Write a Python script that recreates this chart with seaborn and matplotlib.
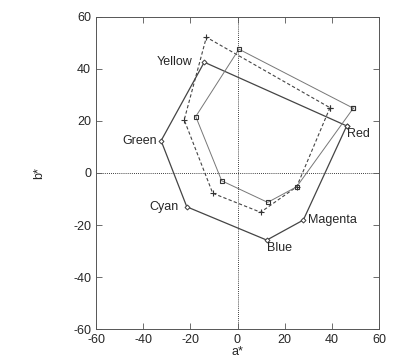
import numpy as np
import pandas as pd
from matplotlib import pyplot as plt
import seaborn as sns

# a*/b* coordinates of the six primaries/secondaries, three devices
colours = ["Red", "Magenta", "Blue", "Cyan", "Green", "Yellow"]
a_solid = [46.3, 27.9, 12.4, -21.5, -32.4, -14.1]
b_solid = [18.1, -18.1, -25.8, -13.0, 12.4, 42.6]
a_dash = [39.2, 25.1, 9.8, -10.5, -22.6, -13.2]
b_dash = [25.1, -5.3, -15.1, -7.8, 20.4, 52.2]
a_sq = [49.1, 25.1, 12.8, -6.7, -17.7, 0.6]
b_sq = [24.9, -5.3, -11.3, -3.0, 21.7, 47.6]

ticks = [-60, -40, -20, 0, 20, 40, 60]

sns.set_style("ticks")
plt.rcParams['font.family'] = ['Liberation Sans', 'DejaVu Sans']
plt.rcParams['axes.unicode_minus'] = False

fig = plt.figure(figsize=(4, 3.6), dpi=100)
ax = fig.add_axes([0.24, 0.086, 0.7075, 0.867])


def closed(a, b):
    # repeat first point so the polygon closes
    return pd.DataFrame({"a": a + a[:1], "b": b + b[:1]})


sns.lineplot(data=closed(a_solid, b_solid), x="a", y="b", sort=False, estimator=None,
             color="#444444", lw=0.9, marker="D", markersize=2.5,
             markerfacecolor="white", markeredgecolor="#444444", ax=ax)
sns.lineplot(data=closed(a_dash, b_dash), x="a", y="b", sort=False, estimator=None,
             color="#444444", lw=0.8, linestyle=(0, (3, 2)),
             marker="+", markersize=4.5, markeredgewidth=0.8,
             markeredgecolor="#333333", ax=ax)
sns.lineplot(data=closed(a_sq, b_sq), x="a", y="b", sort=False, estimator=None,
             color="#777777", lw=0.7, marker="s", markersize=3.2,
             markerfacecolor="none", markeredgewidth=0.8,
             markeredgecolor="#333333", ax=ax)

ax.axhline(0, color="black", lw=0.6, ls=(0, (1, 1.5)), zorder=0)
ax.axvline(0, color="black", lw=0.6, ls=(0, (1, 1.5)), zorder=0)

# label placement: (dx px, dy px, ha)
offsets = {
    "Red": (0, -8, "left"),
    "Magenta": (5, 0, "left"),
    "Blue": (0, -8, "left"),
    "Cyan": (-8, 0, "right"),
    "Green": (-4, 0, "right"),
    "Yellow": (-12, 0, "right"),
}
for name, a, b in zip(colours, a_solid, b_solid):
    dx, dy, ha = offsets[name]
    ax.annotate(name, (a, b), xytext=(dx * 0.72, dy * 0.72), textcoords="offset points",
                ha=ha, va="center", fontsize=9)

ax.set_xlim(-60, 60)
ax.set_ylim(-60, 60)
ax.set_xticks(ticks)
ax.set_yticks(ticks)
ax.tick_params(direction="in", length=4, width=0.6, labelsize=9,
               top=True, right=True, color="#555555")
for s in ax.spines.values():
    s.set_linewidth(0.7)
    s.set_color("#555555")
ax.set_xlabel("a*", fontsize=9, labelpad=0)
ax.set_ylabel("b*", fontsize=9, labelpad=20)

fig.savefig("out.png", dpi=100)
